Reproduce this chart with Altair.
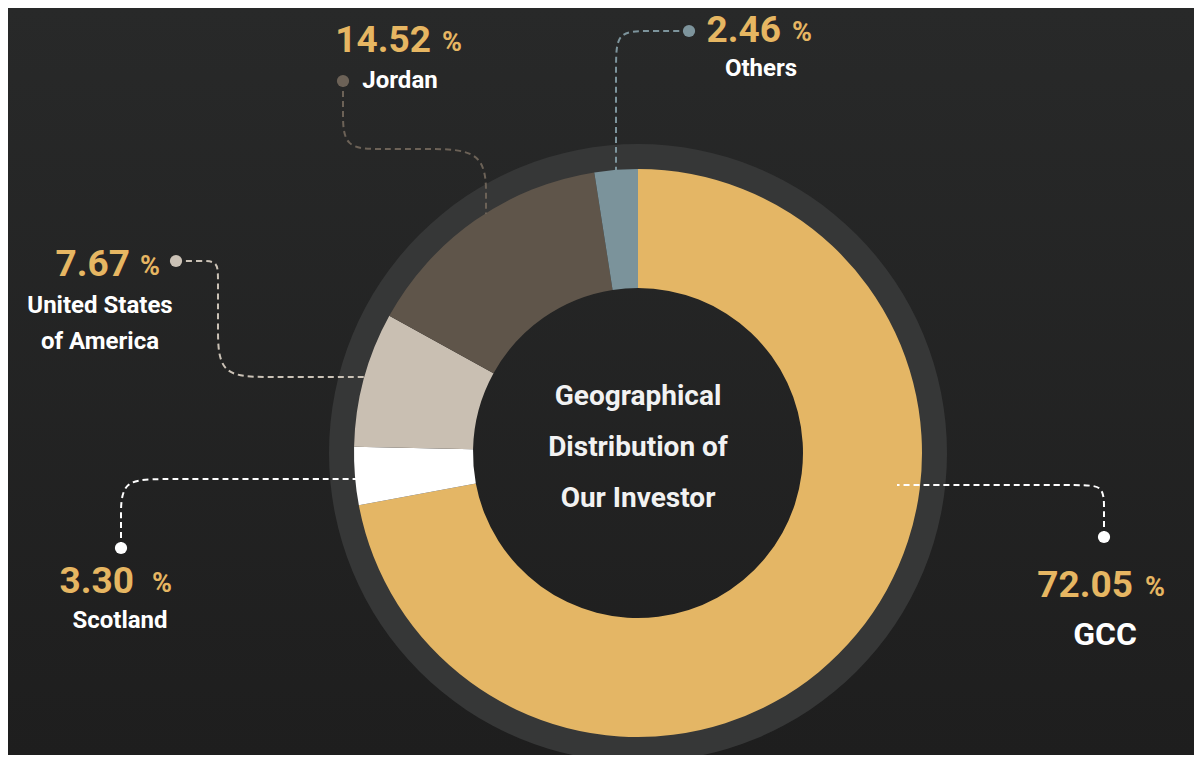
import altair as alt
import pandas as pd

# ---------------- data ----------------
regions = ["GCC", "Scotland", "United States of America", "Jordan", "Others"]
shares = [72.05, 3.30, 7.67, 14.52, 2.46]
slice_colors = ["#e4b665", "#ffffff", "#c9bfb2", "#5f554a", "#7b939b"]
accent_colors = ["#ffffff", "#ffffff", "#cbc2b6", "#6c6257", "#7d949c"]
name_lines = [["GCC"], ["Scotland"], ["United States", "of America"], ["Jordan"], ["Others"]]
center_title = ["Geographical", "Distribution of", "Our Investor"]

# ---------------- layout (image pixel coordinates) ----------------
W, H = 1186, 747
OFF = 8
CX, CY = 638, 453
R_OUT, R_IN = 284, 165
RING_OUT, RING_IN = 309, 283

# number right edge, % left edge, number baseline, name centre x, name baseline
label_layout = {
    "GCC": (1133, 1145, 597, 1105, 645),
    "Scotland": (134, 152, 593, 120, 628),
    "United States of America": (130, 140, 276, 100, 313),
    "Jordan": (431, 442, 52, 400, 88),
    "Others": (781, 792, 42, 761, 76),
}
# connector control points: start at the dot, rounded corners via basis curve
connector_paths = {
    "GCC": [(1104, 537), (1104, 522), (1104, 509), (1104, 485), (1080, 485), (897, 485)],
    "Scotland": [(121, 548), (121, 530), (121, 519), (121, 479), (161, 479), (357, 479)],
    "United States of America": [(176, 261), (201, 261), (218, 261), (218, 278),
                                 (218, 327), (218, 377), (268, 377), (366, 377)],
    "Jordan": [(343, 81), (343, 111), (343, 149), (381, 149), (425, 149),
               (486, 149), (486, 200), (486, 214)],
    "Others": [(689, 31), (649, 31), (616, 31), (616, 64), (616, 170)],
}

FONT = "Roboto"

xs = alt.Scale(domain=[OFF, OFF + W], nice=False, zero=False)
ys = alt.Scale(domain=[OFF, OFF + H], nice=False, zero=False, reverse=True)

df = pd.DataFrame({
    "region": regions,
    "share": shares,
    "idx": list(range(len(regions))),
    "sc": slice_colors,
    "ac": accent_colors,
})

# background gradient
bg = alt.Chart(pd.DataFrame({"a": [0]})).mark_rect(
    color=alt.Gradient(
        gradient="linear",
        stops=[alt.GradientStop(color="#282929", offset=0),
               alt.GradientStop(color="#1e1e1e", offset=1)],
        x1=0, x2=0, y1=0, y2=1,
    )
).encode(x=alt.value(0), x2=alt.value(W), y=alt.value(0), y2=alt.value(H))

ring = alt.Chart(pd.DataFrame({"a": [0]})).mark_arc(
    radius=RING_OUT, radius2=RING_IN, theta=0, theta2=6.2832, color="#363737"
).encode(x=alt.value(CX - OFF), y=alt.value(CY - OFF))

donut = alt.Chart(df).mark_arc(radius=R_OUT, radius2=R_IN).encode(
    theta=alt.Theta("share:Q", stack=True),
    order=alt.Order("idx:Q"),
    color=alt.Color("sc:N", scale=None),
    x=alt.value(CX - OFF),
    y=alt.value(CY - OFF),
)

# connectors
rows = []
for i, r in enumerate(regions):
    for j, (px, py) in enumerate(connector_paths[r]):
        rows.append({"region": r, "seq": j, "px": px, "py": py, "ac": accent_colors[i]})
cdf = pd.DataFrame(rows)

lines = alt.Chart(cdf).mark_line(
    interpolate="basis", strokeDash=[6, 4], strokeWidth=2
).encode(
    x=alt.X("px:Q", scale=xs, axis=None),
    y=alt.Y("py:Q", scale=ys, axis=None),
    detail="region:N",
    order="seq:Q",
    color=alt.Color("ac:N", scale=None),
)

dots = alt.Chart(cdf[cdf["seq"] == 0]).mark_circle(size=150, opacity=1).encode(
    x=alt.X("px:Q", scale=xs, axis=None),
    y=alt.Y("py:Q", scale=ys, axis=None),
    color=alt.Color("ac:N", scale=None),
)

# labels
ldf = df.copy()
ldf["nx"] = [label_layout[r][0] for r in regions]
ldf["px_"] = [label_layout[r][1] for r in regions]
ldf["nb"] = [label_layout[r][2] for r in regions]
ldf["mx"] = [label_layout[r][3] for r in regions]
ldf["mb"] = [label_layout[r][4] for r in regions]
ldf["name"] = name_lines
ldf["pb"] = ldf["nb"] - 1

nums = alt.Chart(ldf).mark_text(
    font=FONT, fontWeight="bold", fontSize=37, color="#e6b662",
    align="right", baseline="alphabetic",
).encode(
    x=alt.X("nx:Q", scale=xs, axis=None),
    y=alt.Y("nb:Q", scale=ys, axis=None),
    text=alt.Text("share:Q", format=".2f"),
)

pcts = alt.Chart(ldf).mark_text(
    font=FONT, fontWeight="bold", fontSize=27, color="#e6b662",
    align="left", baseline="alphabetic",
).encode(
    x=alt.X("px_:Q", scale=xs, axis=None),
    y=alt.Y("pb:Q", scale=ys, axis=None),
    text=alt.value("%"),
)

small_names = ldf[ldf["region"] != "GCC"]
names = alt.Chart(small_names).mark_text(
    font=FONT, fontWeight="bold", fontSize=24, color="#ffffff",
    align="center", baseline="alphabetic", lineHeight=36,
).encode(
    x=alt.X("mx:Q", scale=xs, axis=None),
    y=alt.Y("mb:Q", scale=ys, axis=None),
    text="name",
)

big_name = alt.Chart(ldf[ldf["region"] == "GCC"]).mark_text(
    font=FONT, fontWeight="bold", fontSize=32, color="#ffffff",
    align="center", baseline="alphabetic",
).encode(
    x=alt.X("mx:Q", scale=xs, axis=None),
    y=alt.Y("mb:Q", scale=ys, axis=None),
    text="name",
)

center = alt.Chart(pd.DataFrame({"t": [center_title]})).mark_text(
    font=FONT, fontWeight="bold", fontSize=28, color="#f2f2f2",
    align="center", baseline="alphabetic", lineHeight=51,
).encode(
    x=alt.value(CX - OFF),
    y=alt.value(405 - OFF),
    text="t",
)

chart = alt.layer(
    bg, ring, donut, lines, dots, nums, pcts, names, big_name, center
).properties(
    width=W, height=H, padding=0, autosize="none", background="#232424"
).configure_view(strokeWidth=0)

chart.save("out.html", embed_options={"renderer": "svg", "actions": False})
